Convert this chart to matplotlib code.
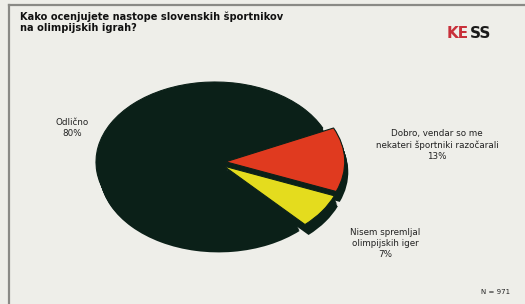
import matplotlib.pyplot as plt
from matplotlib.lines import Line2D

# data
labels = ["Odlično", "Dobro, vendar so me\nnekateri športniki razočarali", "Nisem spremljal\nolimpijskih iger"]
shares = [80, 13, 7]
colors = ["#0b2018", "#e03a1f", "#e4dc1e"]
explode = [0, 0.09, 0.09]
title = "Kako ocenjujete nastope slovenskih športnikov\nna olimpijskih igrah?"
note = "N = 971"

W, H = 525, 304
fig = plt.figure(figsize=(W / 100, H / 100), dpi=100)
fig.patch.set_facecolor("#eeeee9")

# frame lines
fig.add_artist(Line2D([9 / W, 1], [1 - 5 / H, 1 - 5 / H], color="#8a8a86", lw=1.6))
fig.add_artist(Line2D([9 / W, 9 / W], [0, 1 - 5 / H], color="#8a8a86", lw=1.6))

# pie axes, stretched to get the tilted look
cx, cy, rx, ry = 215, 162, 119, 80
ax = fig.add_axes([(cx - 1.2 * rx) / W, (H - cy - 1.2 * ry) / H, 2.4 * rx / W, 2.4 * ry / H])

# depth: stack of dark copies going down
steps = 8
for k in range(steps, 0, -1):
    ax.pie(shares, explode=explode, colors=[colors[0]] * 3, startangle=-47,
           counterclock=False, center=(0.03 * k / steps, -0.13 * k / steps),
           wedgeprops=dict(linewidth=0))
ax.pie(shares, explode=explode, colors=colors, startangle=-47,
       counterclock=False, wedgeprops=dict(edgecolor=colors[0], linewidth=0.8))
ax.set_aspect("auto")
ax.set_xlim(-1.2, 1.2)
ax.set_ylim(-1.2, 1.2)
ax.axis("off")

fig.text(20 / W, 1 - 11 / H, title, ha="left", va="top", fontsize=7.1,
         fontweight="bold", color="#111111", linespacing=1.2)

txt = dict(ha="center", va="top", fontsize=6.3, color="#222222", linespacing=1.3)
fig.text(72 / W, 1 - 118 / H, f"{labels[0]}\n{shares[0]}%", **txt)
fig.text(437 / W, 1 - 129 / H, f"{labels[1]}\n{shares[1]}%", **txt)
fig.text(385 / W, 1 - 228 / H, f"{labels[2]}\n{shares[2]}%", **txt)
fig.text(510 / W, 1 - 292 / H, note, ha="right", va="center", fontsize=5, color="#222222")

# logo
fig.text(447 / W, 1 - 34 / H, "KE", ha="left", va="center", fontsize=11,
         fontweight="bold", color="#c8303a")
fig.text(470 / W, 1 - 34 / H, "SS", ha="left", va="center", fontsize=11,
         fontweight="bold", color="#1a1a1a")

fig.savefig("out.png", dpi=100, facecolor=fig.get_facecolor())
